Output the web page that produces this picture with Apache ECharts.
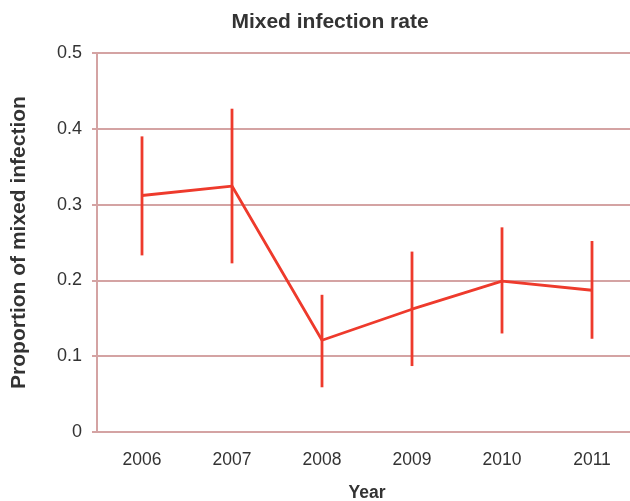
<!DOCTYPE html>
<html><head><meta charset="utf-8">
<script src="https://cdn.jsdelivr.net/npm/echarts@6/dist/echarts.min.js"></script>
<style>html,body{margin:0;padding:0;background:#fff;width:100%;height:100%;overflow:hidden}#c{width:630px;height:501px}</style>
</head><body><div id="c"></div>
<script>
const years = ['2006','2007','2008','2009','2010','2011'];
const rates = [0.312, 0.3245, 0.121, 0.162, 0.199, 0.187];
const lower = [0.233, 0.2225, 0.059, 0.087, 0.130, 0.123];
const upper = [0.390, 0.4265, 0.181, 0.238, 0.270, 0.252];
const yTicks = [0, 0.1, 0.2, 0.3, 0.4, 0.5];

const red = '#ee3a2c';
const gridCol = '#d4a3a3';
const font = 'Liberation Sans, Arial, sans-serif';
const errData = years.map((y, i) => [i, lower[i], upper[i]]);

const chart = echarts.init(document.getElementById('c'), null, {renderer: 'canvas'});
chart.setOption({
  animation: false,
  title: {
    text: 'Mixed infection rate', left: 325, top: 7, textAlign: 'center',
    textStyle: {fontFamily: font, fontSize: 21, fontWeight: 'bold', color: '#333'}
  },
  grid: {left: 97, top: 53, right: -7, bottom: 69, containLabel: false, outerBoundsMode: 'none'},
  xAxis: {
    type: 'category', data: years, boundaryGap: true,
    name: 'Year', nameLocation: 'middle', nameGap: 52,
    nameTextStyle: {fontFamily: font, fontSize: 17.5, fontWeight: 'bold', color: '#333'},
    axisLine: {show: true, lineStyle: {color: gridCol, width: 2}},
    axisTick: {show: false},
    axisLabel: {fontFamily: font, fontSize: 17.5, color: '#333', margin: 19},
    splitLine: {show: false}
  },
  yAxis: {
    type: 'value', min: 0, max: 0.5, interval: 0.1,
    name: 'Proportion of mixed infection', nameLocation: 'middle', nameGap: 67, nameRotate: 90,
    nameTextStyle: {fontFamily: font, fontSize: 21, fontWeight: 'bold', color: '#333'},
    axisLine: {show: true, lineStyle: {color: gridCol, width: 2}},
    axisTick: {show: true, length: 5, lineStyle: {color: gridCol, width: 2}},
    axisLabel: {fontFamily: font, fontSize: 18, color: '#333', margin: 15,
      formatter: v => { const t = yTicks.find(x => Math.abs(x - v) < 1e-9); return t === undefined ? '' : String(t); }},
    splitLine: {show: true, lineStyle: {color: gridCol, width: 2}}
  },
  series: [
    {
      type: 'line', data: rates, symbol: 'none',
      lineStyle: {color: red, width: 2.8}, z: 3
    },
    {
      type: 'custom', data: errData, z: 4,
      renderItem: function (params, api) {
        const x = api.value(0);
        const lo = api.coord([x, api.value(1)]);
        const hi = api.coord([x, api.value(2)]);
        return {
          type: 'line',
          shape: {x1: lo[0], y1: lo[1], x2: hi[0], y2: hi[1]},
          style: {stroke: red, lineWidth: 2.8}
        };
      }
    }
  ]
});
</script></body></html>
